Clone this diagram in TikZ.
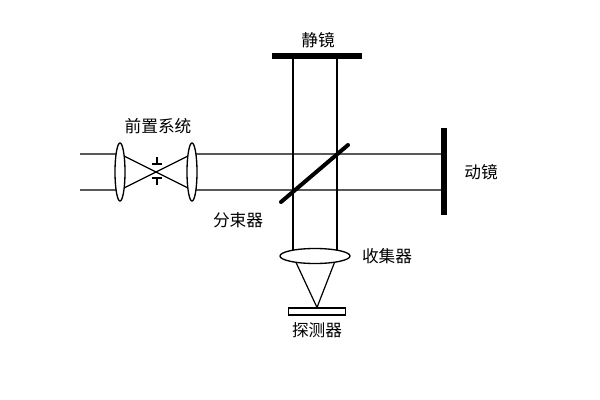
\documentclass[tikz,border=0pt]{standalone}
\usepackage{fontspec}
\setmainfont{Noto Sans CJK SC}
\usetikzlibrary{shapes.geometric}

\begin{document}
\begin{tikzpicture}[x=0.75pt,y=-0.75pt,
		beam/.style={line width=0.9pt},
		mirror/.style={line width=4.5pt},
		lens/.style={draw,ellipse,fill=white,line width=1pt,inner sep=0pt},
		txt/.style={font=\fontsize{12.5}{14}\selectfont}]
		\useasboundingbox (0,0) rectangle (600,400);
		% points
		\coordinate (inT) at (80,154);
		\coordinate (inB) at (80,190);
		\coordinate (cL) at (120,172);
		\coordinate (cR) at (192,172);
		\coordinate (smL) at (272,56);
		\coordinate (smR) at (362,56);
		\coordinate (mmT) at (444,128);
		\coordinate (mmB) at (444,215);
		\coordinate (bsA) at (281,202);
		\coordinate (bsB) at (348,145);
		\coordinate (vL) at (293,56);
		\coordinate (vR) at (337,56);
		\coordinate (col) at (315,256);
		% beams
		\draw[beam] (inT) -- (inT -| cL) -- (cR |- inB) -- (mmB |- inB);
		\draw[beam] (inB) -- (inB -| cL) -- (cR |- inT) -- (mmT |- inT);
		\draw[beam] (vL) -- (vL |- col);
		\draw[beam] (vR) -- (vR |- col);
		% detector
		\node[draw,line width=0.8pt,minimum width=42.75pt,minimum height=5.25pt,inner sep=0pt] (det) at (317,311.5) {};
		\draw[beam] (vL |- col) -- (det.north) -- (vR |- col);
		% lenses
		\node[lens,minimum width=7.5pt,minimum height=43.5pt] (lensL) at (cL) {};
		\node[lens,minimum width=7.5pt,minimum height=43.5pt] (lensR) at (cR) {};
		\node[lens,minimum width=52.5pt,minimum height=11.25pt] (lensC) at (col) {};
		% aperture
		\draw[line width=1.8pt] (152,164) -- (162,164) (157,164) -- (157,157);
		\draw[line width=1.8pt] (152,178) -- (162,178) (157,178) -- (157,185);
		% mirrors
		\draw[mirror] (smL) -- (smR);
		\draw[mirror] (mmT) -- (mmB);
		\draw[line width=3pt,line cap=round] (bsA) -- (bsB);
		% labels
		\node[txt] (lbSm) at (318,40) {静镜};
		\node[txt] (lbPre) at (158,126) {前置系统};
		\node[txt] (lbMm) at (481,172) {动镜};
		\node[txt] (lbBs) at (238,220) {分束器};
		\node[txt] (lbCol) at (387,256) {收集器};
		\node[txt] (lbDet) at (317,330) {探测器};
\end{tikzpicture}
\end{document}
